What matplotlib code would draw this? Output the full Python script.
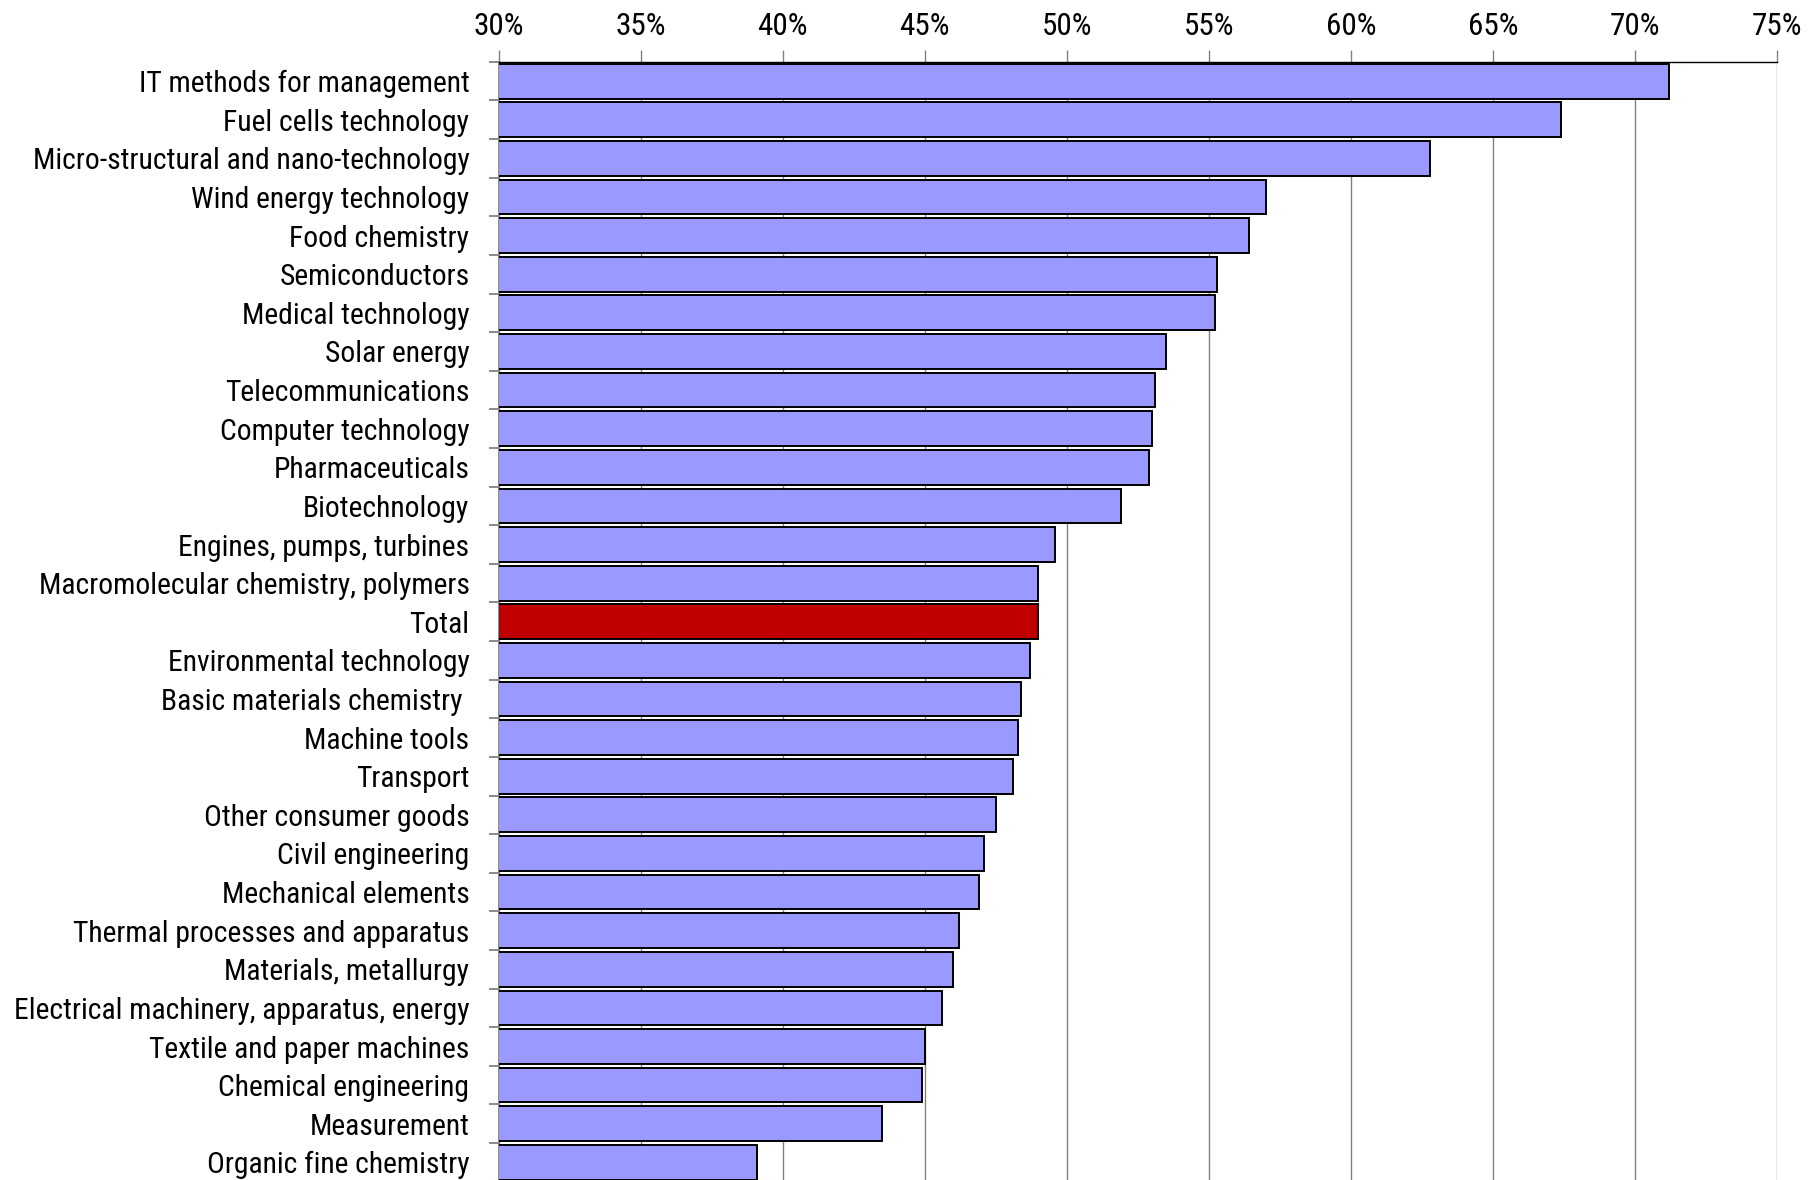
import matplotlib
matplotlib.use("Agg")
import matplotlib.pyplot as plt
from matplotlib.ticker import FuncFormatter, MultipleLocator

plt.rcParams["font.family"] = ["Roboto Condensed", "DejaVu Sans"]

categories = [
    "IT methods for management",
    "Fuel cells technology",
    "Micro-structural and nano-technology",
    "Wind energy technology",
    "Food chemistry",
    "Semiconductors",
    "Medical technology",
    "Solar energy",
    "Telecommunications",
    "Computer technology",
    "Pharmaceuticals",
    "Biotechnology",
    "Engines, pumps, turbines",
    "Macromolecular chemistry, polymers",
    "Total",
    "Environmental technology",
    "Basic materials chemistry ",
    "Machine tools",
    "Transport",
    "Other consumer goods",
    "Civil engineering",
    "Mechanical elements",
    "Thermal processes and apparatus",
    "Materials, metallurgy",
    "Electrical machinery, apparatus, energy",
    "Textile and paper machines",
    "Chemical engineering",
    "Measurement",
    "Organic fine chemistry",
]
values = [71.2, 67.4, 62.8, 57.0, 56.4, 55.3, 55.2, 53.5, 53.1, 53.0, 52.9,
          51.9, 49.6, 49.0, 49.0, 48.7, 48.4, 48.3, 48.1, 47.5, 47.1, 46.9,
          46.2, 46.0, 45.6, 45.0, 44.9, 43.5, 39.1]
highlight = "Total"

BAR = "#9999ff"
HIGHLIGHT = "#c00000"

fig = plt.figure(figsize=(18.17, 11.80), dpi=100)
ax = fig.add_axes([0.2744, -0.0014, 0.7036, 0.949])

y = list(range(len(categories)))
colors = [HIGHLIGHT if c == highlight else BAR for c in categories]
ax.barh(y, values, height=0.9, color=colors, edgecolor="black",
        linewidth=1.4, zorder=3)

ax.set_xlim(30, 75)
ax.set_ylim(len(categories) - 0.5, -0.5)
ax.xaxis.set_major_locator(MultipleLocator(5))
ax.xaxis.set_major_formatter(FuncFormatter(lambda v, _: f"{v:.0f}%"))
ax.xaxis.tick_top()
ax.grid(axis="x", color="#808080", linewidth=1.0, zorder=0)

# group boundaries get the tick marks, labels sit between them
ax.set_yticks([i - 0.5 for i in y])
ax.set_yticklabels([])
ax.set_yticks(y, minor=True)
ax.set_yticklabels(categories, minor=True, fontsize=21.3)
ax.tick_params(axis="y", which="major", length=7, width=1.3, color="#808080",
               direction="out")
ax.tick_params(axis="y", which="minor", length=0, pad=21)
ax.tick_params(axis="x", length=9, width=1.0, color="#808080", pad=6,
               labelsize=22.5)

for side in ("right", "bottom"):
    ax.spines[side].set_visible(False)
ax.spines["top"].set_color("black")
ax.spines["top"].set_linewidth(1.0)
ax.spines["left"].set_color("#808080")
ax.spines["left"].set_linewidth(1.3)

fig.savefig("out.png", dpi=100)
